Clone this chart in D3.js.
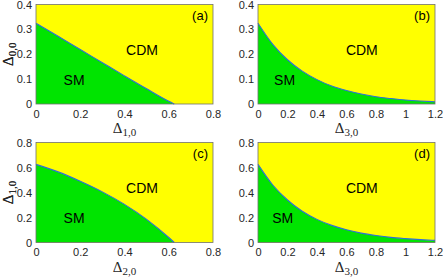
<!DOCTYPE html>
<html>
<head>
<meta charset="utf-8">
<script src="https://cdn.jsdelivr.net/npm/d3@7"></script>
<style>
  body { margin: 0; background: #fff; }
  svg { display: block; }
  .tick text { font-family: "Liberation Sans", Arial, sans-serif; font-size: 11px; fill: #262626; }
</style>
</head>
<body>
<svg id="chart" width="443" height="277"></svg>
<script>
// boundary between SM and CDM phases
const xA = [0, 0.1, 0.2, 0.3, 0.4, 0.5, 0.6, 0.625];
const yA = [0.325, 0.272, 0.219, 0.166, 0.113, 0.061, 0.011, 0];

const xB = [0, 0.1, 0.2, 0.3, 0.4, 0.5, 0.6, 0.7, 0.8, 0.9, 1.0, 1.1, 1.2];
const yB = [0.325, 0.24, 0.178, 0.132, 0.098, 0.072, 0.054, 0.04, 0.029, 0.022, 0.016, 0.012, 0.009];

const xC = [0, 0.1, 0.2, 0.3, 0.4, 0.5, 0.6, 0.625];
const yC = [0.625, 0.565, 0.49, 0.405, 0.305, 0.185, 0.04, 0];

const xD = [0, 0.1, 0.2, 0.3, 0.4, 0.5, 0.6, 0.7, 0.8, 0.9, 1.0, 1.1, 1.2];
const yD = [0.625, 0.46, 0.34, 0.25, 0.185, 0.137, 0.102, 0.075, 0.056, 0.041, 0.031, 0.023, 0.017];

const panels = [
  { id: "(a)", xs: xA, ys: yA, xMax: 0.8, yMax: 0.4, xTicks: [0, 0.2, 0.4, 0.6, 0.8], yTicks: [0, 0.1, 0.2, 0.3, 0.4],
    xSub: "1,0", ySub: "0,0", left: 36, top: 4.5, w: 177, h: 99.5, cdm: [0.479, 0.217], sm: [0.172, 0.096] },
  { id: "(b)", xs: xB, ys: yB, xMax: 1.2, yMax: 0.4, xTicks: [0, 0.2, 0.4, 0.6, 0.8, 1, 1.2], yTicks: [0, 0.1, 0.2, 0.3, 0.4],
    xSub: "3,0", ySub: "0,0", left: 258, top: 4.5, w: 177, h: 99.5, cdm: [0.704, 0.217], sm: [0.18, 0.096] },
  { id: "(c)", xs: xC, ys: yC, xMax: 0.8, yMax: 0.8, xTicks: [0, 0.2, 0.4, 0.6, 0.8], yTicks: [0, 0.2, 0.4, 0.6, 0.8],
    xSub: "2,0", ySub: "1,0", left: 36, top: 142.5, w: 177, h: 100, cdm: [0.479, 0.436], sm: [0.172, 0.196] },
  { id: "(d)", xs: xD, ys: yD, xMax: 1.2, yMax: 0.8, xTicks: [0, 0.2, 0.4, 0.6, 0.8, 1, 1.2], yTicks: [0, 0.2, 0.4, 0.6, 0.8],
    xSub: "3,0", ySub: "1,0", left: 258, top: 142.5, w: 177, h: 100, cdm: [0.704, 0.436], sm: [0.168, 0.196] }
];

const svg = d3.select("#chart");
const fmt = d => d === 0 ? "0" : d3.format("~g")(d);

panels.forEach(p => {
  const g = svg.append("g").attr("transform", `translate(${p.left},${p.top})`);
  const x = d3.scaleLinear().domain([0, p.xMax]).range([0, p.w]);
  const y = d3.scaleLinear().domain([0, p.yMax]).range([p.h, 0]);
  const pts = p.xs.map((v, i) => [v, p.ys[i]]);

  // CDM background
  g.append("rect").attr("width", p.w).attr("height", p.h).attr("fill", "#ffff00");

  // SM region under the boundary
  g.append("path").datum(pts)
    .attr("d", d3.area().x(d => x(d[0])).y0(y(0)).y1(d => y(d[1])).curve(d3.curveMonotoneX))
    .attr("fill", "#00e400");

  g.append("path").datum(pts)
    .attr("d", d3.line().x(d => x(d[0])).y(d => y(d[1])).curve(d3.curveMonotoneX))
    .attr("fill", "none").attr("stroke", "#2f6fd8").attr("stroke-width", 1.1);

  // axes
  g.append("g").attr("transform", `translate(0,${p.h})`)
    .call(d3.axisBottom(x).tickValues(p.xTicks).tickFormat(fmt).tickSize(0).tickPadding(6))
    .call(a => a.select(".domain").remove());
  g.append("g")
    .call(d3.axisLeft(y).tickValues(p.yTicks).tickFormat(fmt).tickSize(0).tickPadding(4))
    .call(a => a.select(".domain").remove());

  g.append("rect").attr("width", p.w).attr("height", p.h)
    .attr("fill", "none").attr("stroke", "#707070").attr("stroke-width", 0.8);

  // region labels
  const lab = "'Liberation Sans', Arial, sans-serif";
  g.append("text").attr("x", x(p.cdm[0])).attr("y", y(p.cdm[1])).attr("dy", "0.35em")
    .attr("text-anchor", "middle").attr("font-family", lab).attr("font-size", 14).text("CDM");
  g.append("text").attr("x", x(p.sm[0])).attr("y", y(p.sm[1])).attr("dy", "0.35em")
    .attr("text-anchor", "middle").attr("font-family", lab).attr("font-size", 14).text("SM");
  g.append("text").attr("x", p.w - 5).attr("y", 15).attr("text-anchor", "end")
    .attr("font-family", lab).attr("font-size", 13).text(p.id);

  // axis titles
  const serif = "'Liberation Serif', 'Times New Roman', serif";
  const xt = g.append("text").attr("x", p.w / 2).attr("y", p.h + 29)
    .attr("text-anchor", "middle").attr("font-family", serif).attr("font-size", 15).attr("fill", "#262626");
  xt.append("tspan").text("Δ");
  xt.append("tspan").attr("font-size", 11).attr("dy", 3).text(p.xSub);

  const yt = g.append("text").attr("transform", `translate(${-p.left + 13},${p.h / 2}) rotate(-90)`)
    .attr("text-anchor", "middle").attr("font-family", serif).attr("font-size", 15).attr("fill", "#262626");
  yt.append("tspan").text("Δ");
  yt.append("tspan").attr("font-size", 11).attr("dy", 3).text(p.ySub);
});
</script>
</body>
</html>
